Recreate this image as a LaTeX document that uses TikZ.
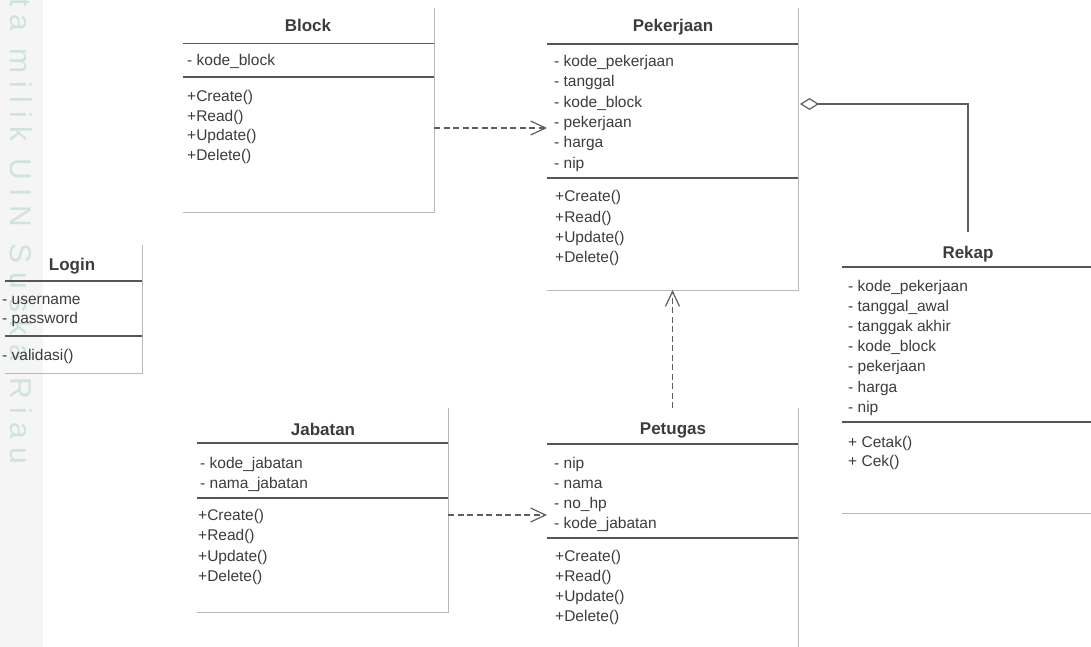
\documentclass[tikz,border=0pt]{standalone}
\usepackage{fontspec}
\setmainfont{Liberation Sans}
\usetikzlibrary{arrows.meta,calc}
\definecolor{txt}{HTML}{3C3C3C}
\definecolor{sepc}{HTML}{565656}
\definecolor{edgec}{HTML}{B8B8B8}
\definecolor{conn}{HTML}{5E5E5E}
\definecolor{wm}{HTML}{CFE3DD}
\definecolor{strip}{HTML}{F5F5F5}
\begin{document}
\begin{tikzpicture}[x=1pt,y=-1pt,
  classbox/.style={inner sep=0pt, outer sep=0pt, draw=none, anchor=north west},
  ctitle/.style={font=\fontsize{17}{20}\selectfont\bfseries, text=txt, anchor=base, inner sep=0pt},
  item/.style={font=\fontsize{15.5}{19}\selectfont, text=txt, anchor=base west, inner sep=0pt},
  sepline/.style={draw=sepc, line width=1.2pt},
  edgeline/.style={draw=edgec, line width=1pt},
  dep/.style={draw=conn, line width=1.2pt, dash pattern=on 6pt off 3.5pt, -{Straight Barb[length=15pt,width=14pt]}},
  agg/.style={draw=conn, line width=1.2pt, -{Diamond[open,length=19pt,width=12pt]}}
]
\useasboundingbox (0,0) rectangle (1091,647);
\clip (0,0) rectangle (1091,647);

% watermark strip
\fill[strip] (0,0) rectangle (43,647);
\node[rotate=-90, anchor=west, inner sep=0pt, text=wm, font=\fontsize{30}{32}\selectfont\addfontfeature{LetterSpace=28}] (wmtext) at (21,-2) {ta milik UIN Suska Riau};

% ---------- Block ----------
\node[classbox, minimum width=251, minimum height=204] (block) at (183,8) {};
\draw[edgeline] (block.north east) -- (block.south east) -- (block.south west);
\draw[sepline] (block.west |- 0,43.5) -- (block.east |- 0,43.5);
\draw[sepline] (block.west |- 0,77) -- (block.east |- 0,77);
\node[ctitle] (blockT) at (308,31.7) {Block};
\node[item] (blockA1) at (187,66) {- kode\_block};
\foreach \t [count=\i] in {+Create(),+Read(),+Update(),+Delete()}
  \node[item] (blockM\i) at (187,{101.7+19.6*(\i-1)}) {\t};

% ---------- Pekerjaan ----------
\node[classbox, minimum width=251, minimum height=282] (pek) at (547,8) {};
\draw[edgeline] (pek.north east) -- (pek.south east) -- (pek.south west);
\draw[sepline] (pek.west |- 0,44) -- (pek.east |- 0,44);
\draw[sepline] (pek.west |- 0,178) -- (pek.east |- 0,178);
\node[ctitle] (pekT) at (673,31.7) {Pekerjaan};
\foreach \t [count=\i] in {- kode\_pekerjaan,- tanggal,- kode\_block,- pekerjaan,- harga,- nip}
  \node[item] (pekA\i) at (554,{66.5+20.3*(\i-1)}) {\t};
\foreach \t [count=\i] in {+Create(),+Read(),+Update(),+Delete()}
  \node[item] (pekM\i) at (555,{201.7+20.3*(\i-1)}) {\t};

% ---------- Rekap ----------
\node[classbox, minimum width=252, minimum height=281] (rekap) at (842,232) {};
\draw[sepline] (rekap.west |- 0,267) -- (rekap.east |- 0,267);
\draw[sepline] (rekap.west |- 0,422) -- (rekap.east |- 0,422);
\draw[edgeline] (rekap.south west) -- (rekap.south east);
\node[ctitle] (rekapT) at (968,258.3) {Rekap};
\foreach \t [count=\i] in {- kode\_pekerjaan,- tanggal\_awal,- tanggak akhir,- kode\_block,- pekerjaan,- harga,- nip}
  \node[item] (rekapA\i) at (848,{291+20.2*(\i-1)}) {\t};
\foreach \t [count=\i] in {+ Cetak(),+ Cek()}
  \node[item] (rekapM\i) at (848,{447+19.5*(\i-1)}) {\t};

% ---------- Login ----------
\node[classbox, minimum width=137, minimum height=128] (login) at (5,245) {};
\draw[edgeline] (login.north east) -- (login.south east) -- (login.south west);
\draw[sepline] (login.west |- 0,281) -- (login.east |- 0,281);
\draw[sepline] (login.west |- 0,336) -- (login.east |- 0,336);
\node[ctitle] (loginT) at (72,270.7) {Login};
\node[item] (loginA1) at (2,304) {- username};
\node[item] (loginA2) at (2,323) {- password};
\node[item] (loginM1) at (2,360) {- validasi()};

% ---------- Jabatan ----------
\node[classbox, minimum width=251, minimum height=204] (jab) at (197,408) {};
\draw[edgeline] (jab.north east) -- (jab.south east) -- (jab.south west);
\draw[sepline] (jab.west |- 0,443) -- (jab.east |- 0,443);
\draw[sepline] (jab.west |- 0,498) -- (jab.east |- 0,498);
\node[ctitle] (jabT) at (323,435) {Jabatan};
\node[item] (jabA1) at (200,468.3) {- kode\_jabatan};
\node[item] (jabA2) at (200,488.3) {- nama\_jabatan};
\foreach \t [count=\i] in {+Create(),+Read(),+Update(),+Delete()}
  \node[item] (jabM\i) at (198,{520.5+20.4*(\i-1)}) {\t};

% ---------- Petugas ----------
\node[classbox, minimum width=251, minimum height=239] (pet) at (547,408) {};
\draw[edgeline] (pet.north east) -- (pet.south east);
\draw[sepline] (pet.west |- 0,444) -- (pet.east |- 0,444);
\draw[sepline] (pet.west |- 0,538) -- (pet.east |- 0,538);
\node[ctitle] (petT) at (673,434) {Petugas};
\foreach \t [count=\i] in {- nip,- nama,- no\_hp,- kode\_jabatan}
  \node[item] (petA\i) at (554,{468.3+20*(\i-1)}) {\t};
\foreach \t [count=\i] in {+Create(),+Read(),+Update(),+Delete()}
  \node[item] (petM\i) at (555,{561.7+20*(\i-1)}) {\t};

% ---------- connectors ----------
\draw[dep] (block.east |- 0,128) -- (pek.west |- 0,128);
\draw[dep] (jab.east |- 0,515) -- (pet.west |- 0,515);
\draw[dep] (pet.north) -- (pek.south);
\coordinate (aggend) at ($(pek.east |- 0,104)+(2,0)$);
\draw[agg] (rekap.north) |- (aggend);
\end{tikzpicture}
\end{document}
